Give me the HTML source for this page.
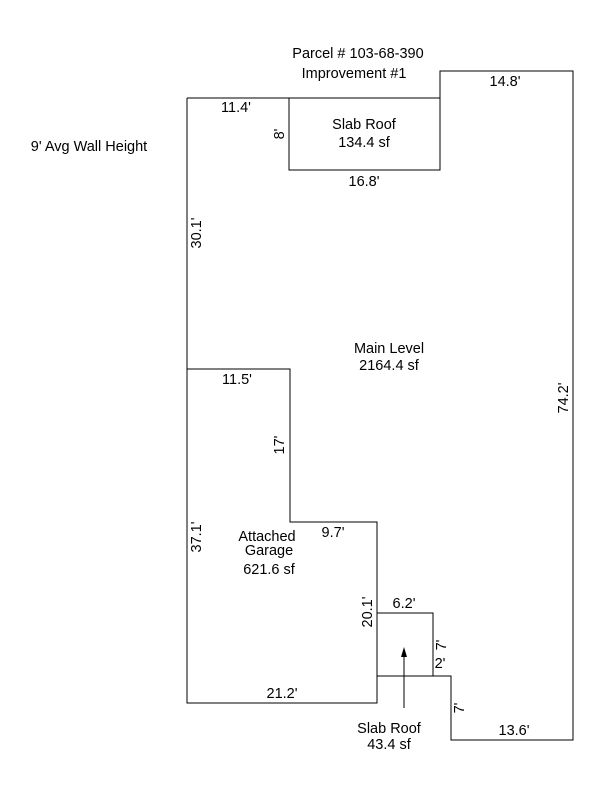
<!DOCTYPE html>
<html><head><style>body{margin:0;background:#fff}svg{display:block}</style></head><body>
<svg width="600" height="800" xmlns="http://www.w3.org/2000/svg" font-family="Liberation Sans, sans-serif" font-size="14.5" fill="#000">
<g stroke="#000" stroke-width="1" fill="none" shape-rendering="crispEdges">
<polyline points="187,98 440,98 440,71 573,71 573,740 451,740 451,676 377,676 377,703 187,703 187,98"/>
<polyline points="187,369 290,369 290,522 377,522 377,676"/>
<rect x="289" y="98" width="151" height="72"/>
<rect x="377" y="613" width="56" height="63"/>
<line x1="404" y1="708" x2="404" y2="655"/>
</g>
<polygon points="404,647 401,657 407,657" fill="#000"/>
<text x="358" y="58" text-anchor="middle">Parcel # 103-68-390</text>
<text x="354" y="78" text-anchor="middle">Improvement #1</text>
<text x="89" y="151" text-anchor="middle">9' Avg Wall Height</text>
<text x="236" y="112" text-anchor="middle">11.4'</text>
<text x="505" y="86" text-anchor="middle">14.8'</text>
<text x="364" y="129" text-anchor="middle">Slab Roof</text>
<text x="364" y="147" text-anchor="middle">134.4 sf</text>
<text x="364" y="186" text-anchor="middle">16.8'</text>
<text x="389" y="353" text-anchor="middle">Main Level</text>
<text x="389" y="370" text-anchor="middle">2164.4 sf</text>
<text x="237" y="384" text-anchor="middle">11.5'</text>
<text x="267" y="541" text-anchor="middle">Attached</text>
<text x="269" y="555" text-anchor="middle">Garage</text>
<text x="269" y="574" text-anchor="middle">621.6 sf</text>
<text x="333" y="537" text-anchor="middle">9.7'</text>
<text x="404" y="608" text-anchor="middle">6.2'</text>
<text x="440" y="668" text-anchor="middle">2'</text>
<text x="282" y="698" text-anchor="middle">21.2'</text>
<text x="514" y="735" text-anchor="middle">13.6'</text>
<text x="389" y="733" text-anchor="middle">Slab Roof</text>
<text x="389" y="749" text-anchor="middle">43.4 sf</text>
<text transform="translate(284,134) rotate(-90)" text-anchor="middle">8'</text>
<text transform="translate(201,233) rotate(-90)" text-anchor="middle">30.1'</text>
<text transform="translate(284,445) rotate(-90)" text-anchor="middle">17'</text>
<text transform="translate(201,537) rotate(-90)" text-anchor="middle">37.1'</text>
<text transform="translate(372,612) rotate(-90)" text-anchor="middle">20.1'</text>
<text transform="translate(446,645) rotate(-90)" text-anchor="middle">7'</text>
<text transform="translate(464,708) rotate(-90)" text-anchor="middle">7'</text>
<text transform="translate(568,398) rotate(-90)" text-anchor="middle">74.2'</text>
</svg>
</body></html>
